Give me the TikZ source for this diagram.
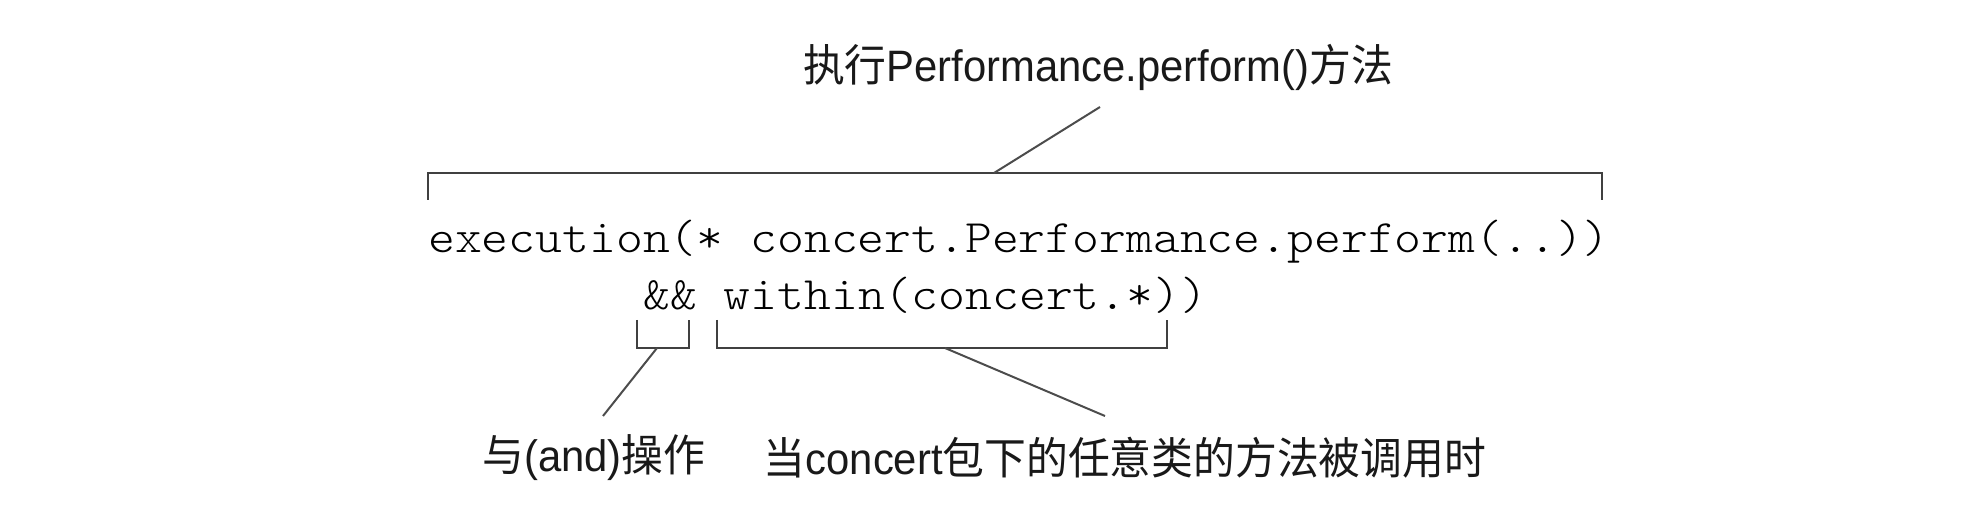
\documentclass[tikz,border=0pt]{standalone}
\usepackage{fontspec}
\usepackage{graphicx}
\setmainfont{Liberation Sans}
\setmonofont{lmmonolt10-regular.otf}
\newfontfamily\cjk{Noto Sans CJK SC}
\tikzset{
  bracketline/.style={draw=black!75, line width=2.2pt},
  leader/.style={draw=black!70, line width=2pt},
  label/.style={inner sep=0pt, font=\fontsize{44}{50}\selectfont, text=black!90},
  code/.style={inner sep=0pt, font=\fontsize{46.5}{54}\selectfont\ttfamily, text=black},
}
\begin{document}
\begin{tikzpicture}[x=1pt,y=-1pt]
\useasboundingbox (0,0) rectangle (1982,510);
% top label
\node[label] (top) at (1098,67) {\scalebox{0.95}[1]{{\cjk 执行}Performance.perform(){\cjk 方法}}};
% code lines
\node[code, anchor=base west] (l1) at (428,253) {\scalebox{1.1}[1]{execution(* concert.Performance.perform(..))}};
\node[code, anchor=base west] (l2) at (643,310) {\scalebox{1.1}[1]{\&\& within(concert.*))}};
% top bracket
\coordinate (tbL) at (428,200);
\coordinate (tbR) at (1602,200);
\coordinate (tbM) at (994,173);
\coordinate (tlead) at (1100,107);
\draw[bracketline] (tbL) |- (tbR |- tbM) -- (tbR);
\draw[leader] (tbM) -- (tlead);
% && bracket
\coordinate (aL) at (637,320);
\coordinate (aR) at (689,320);
\coordinate (aM) at (657,348);
\draw[bracketline] (aL) |- (aR |- aM) -- (aR);
% within bracket
\coordinate (wL) at (717,320);
\coordinate (wR) at (1167,320);
\coordinate (wM) at (945,348);
\draw[bracketline] (wL) |- (wR |- wM) -- (wR);
% bottom labels
\node[label] (andlab) at (594,458) {\scalebox{0.95}[1]{{\cjk 与}(and){\cjk 操作}}};
\node[label] (withinlab) at (1125,458) {\scalebox{0.95}[1]{{\cjk 当}concert{\cjk 包下的任意类的方法被调用时}}};
\coordinate (alead) at (603,416);
\coordinate (wlead) at (1105,416);
\draw[leader] (aM) -- (alead);
\draw[leader] (wM) -- (wlead);
\end{tikzpicture}
\end{document}
